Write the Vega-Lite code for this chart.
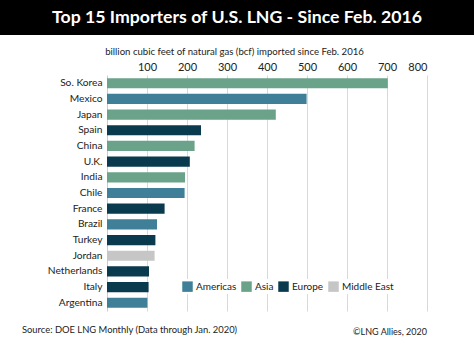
{
  "$schema": "https://vega.github.io/schema/vega-lite/v6.json",
  "padding": 0,
  "spacing": 11,
  "background": "white",
  "config": {"font": "Lato", "view": {"stroke": null}},
  "resolve": {"legend": {"color": "independent"}, "scale": {"color": "independent"}},
  "title": {"text": "Source: DOE LNG Monthly (Data through Jan. 2020)", "orient": "bottom", "anchor": "start", "frame": "bounds", "dx": 22, "offset": -11, "fontSize": 9.4, "fontWeight": "normal", "color": "#222"},
  "vconcat": [
    {
      "width": 474,
      "height": 35,
      "view": {"fill": "black", "stroke": null},
      "data": {"values": [{"t": "Top 15 Importers of U.S. LNG - Since Feb. 2016"}]},
      "mark": {"type": "text", "color": "white", "fontSize": 17.7, "fontWeight": "bold"},
      "encoding": {"text": {"field": "t", "type": "nominal"}}
    },
    {
      "spacing": 0,
      "resolve": {"legend": {"color": "independent"}, "scale": {"color": "independent"}},
      "hconcat": [
        {
          "width": 1,
          "height": 236,
          "data": {"values": [{"t": ""}]},
          "mark": {"type": "text"},
          "encoding": {"text": {"field": "t", "type": "nominal"}}
        },
        {
          "width": 320,
          "height": 236,
          "title": {"text": "©LNG Allies, 2020", "orient": "bottom", "anchor": "end", "frame": "group", "offset": 17, "fontSize": 9, "fontWeight": "normal", "color": "#222"},
          "data": {"values": [
            {"country": "So. Korea", "region": "Asia", "value": 702},
            {"country": "Mexico", "region": "Americas", "value": 499},
            {"country": "Japan", "region": "Asia", "value": 422},
            {"country": "Spain", "region": "Europe", "value": 235},
            {"country": "China", "region": "Asia", "value": 219},
            {"country": "U.K.", "region": "Europe", "value": 207},
            {"country": "India", "region": "Asia", "value": 195},
            {"country": "Chile", "region": "Americas", "value": 194},
            {"country": "France", "region": "Europe", "value": 144},
            {"country": "Brazil", "region": "Americas", "value": 125},
            {"country": "Turkey", "region": "Europe", "value": 121},
            {"country": "Jordan", "region": "Middle East", "value": 119},
            {"country": "Netherlands", "region": "Europe", "value": 105},
            {"country": "Italy", "region": "Europe", "value": 104},
            {"country": "Argentina", "region": "Americas", "value": 101}
          ]},
          "mark": {"type": "bar"},
          "encoding": {
            "y": {"field": "country", "type": "nominal", "sort": "-x",
              "scale": {"paddingInner": 0.35, "paddingOuter": 0.2},
              "axis": {"title": null, "ticks": false, "labelPadding": 5, "labelFontSize": 10.2, "labelColor": "#222", "domainColor": "#cccccc", "minExtent": 106, "maxExtent": 106, "grid": false}},
            "x": {"field": "value", "type": "quantitative", "scale": {"domain": [0, 800]},
              "axis": {"orient": "top", "values": [100, 200, 300, 400, 500, 600, 700, 800], "title": "billion cubic feet of natural gas (bcf) imported since Feb. 2016", "titleFontSize": 9.6, "titleFontWeight": "normal", "titleColor": "#222", "titlePadding": 5, "titleX": 127, "labelFontSize": 11, "labelColor": "#222", "ticks": false, "labelPadding": 3, "domain": false, "gridColor": "#d9d9d9"}},
            "color": {"field": "region", "type": "nominal",
              "scale": {"domain": ["Americas", "Asia", "Europe", "Middle East"], "range": ["#3f8098", "#6aa38a", "#0a3a4e", "#c6c6c6"]},
              "legend": {"title": null, "orient": "none", "legendX": 73, "legendY": 204, "direction": "horizontal", "symbolType": "square", "symbolSize": 110, "symbolStrokeWidth": 0, "symbolOpacity": 1, "labelFontSize": 10, "labelColor": "#222", "labelOffset": 3, "fillColor": "white", "padding": 2, "columnPadding": 4}}
          }
        }
      ]
    }
  ]
}
